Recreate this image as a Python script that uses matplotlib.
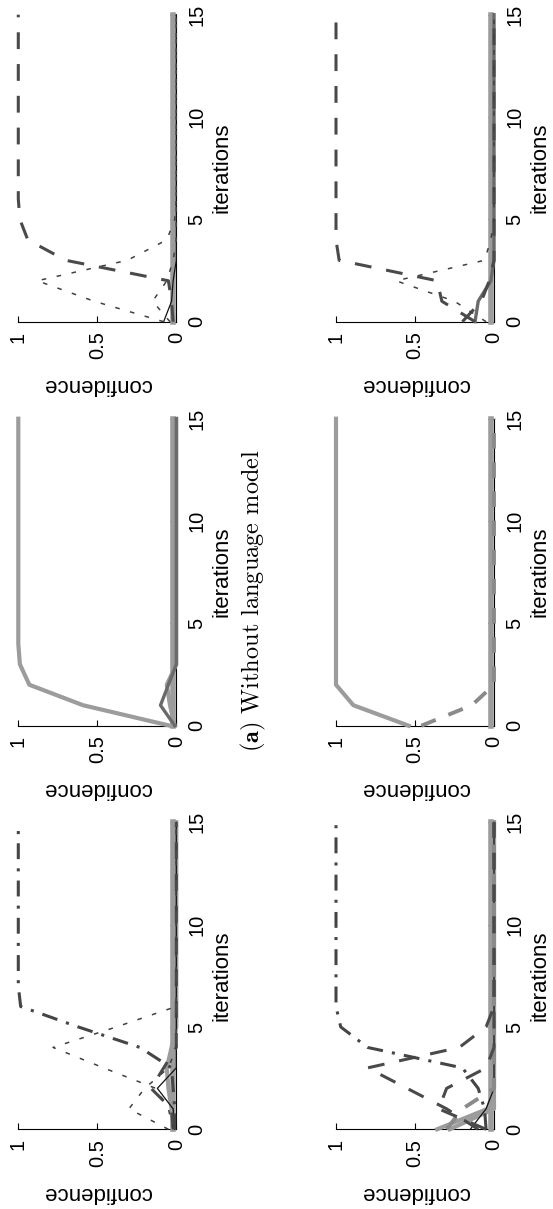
import matplotlib
matplotlib.use("Agg")
import matplotlib.pyplot as plt
import numpy as np

plt.rcParams['font.family'] = ['Liberation Sans', 'DejaVu Sans']
plt.rcParams['mathtext.fontset'] = 'cm'

# iterations 0..15
iters = np.arange(16)

def pad(vals):
    # confidence stays at the last value
    return list(vals) + [vals[-1]] * (16 - len(vals))

# panel A (top left)
a_dash = pad([0.02, 0.03, 0.05, 0.70, 0.94, 0.99, 1.0])
a_dot1 = pad([0.08, 0.52, 0.88, 0.31, 0.06, 0.01, 0.0])
a_dot2 = pad([0.04, 0.15, 0.06, 0.02, 0.0])
a_black = pad([0.08, 0.03, 0.02, 0.0])
a_zero = pad([0.018])

# panel B (top right)
b_dash = pad([0.12, 0.33, 0.36, 0.98, 1.0])
b_dot = pad([0.05, 0.25, 0.62, 0.06, 0.02, 0.0])
b_dark = pad([0.12, 0.10, 0.02, 0.0])
b_dash2 = pad([0.20, 0.08, 0.03, 0.0])
b_zero = pad([0.018])

# panel C (middle left)
c_light = pad([0.04, 0.59, 0.93, 0.99, 1.0])
c_dark = pad([0.01, 0.10, 0.05, 0.0])
c_light2 = pad([0.01, 0.04, 0.06, 0.0])
c_zero = pad([0.018])

# panel D (middle right)
d_solid = pad([0.54, 0.89, 1.0])
d_dash = pad([0.46, 0.14, 0.0])
d_zero = pad([0.018])

# panel E (bottom left)
e_dashdot = pad([0.01, 0.01, 0.02, 0.03, 0.23, 0.62, 0.985, 1.0])
e_dot1 = pad([0.02, 0.05, 0.13, 0.46, 0.78, 0.38, 0.0])
e_dot2 = pad([0.05, 0.30, 0.20, 0.05, 0.0])
e_dash = pad([0.02, 0.03, 0.16, 0.08, 0.0])
e_black = pad([0.01, 0.02, 0.12, 0.0])
e_light = pad([0.02, 0.03, 0.05, 0.06, 0.03, 0.0])
e_zero = pad([0.018])

# panel F (bottom right)
f_dashdot = pad([0.05, 0.06, 0.10, 0.20, 0.80, 0.97, 1.0])
f_dash1 = pad([0.10, 0.30, 0.55, 0.80, 0.22, 0.05, 0.0])
f_dash2 = pad([0.05, 0.35, 0.30, 0.05, 0.0])
f_gdash = pad([0.30, 0.20, 0.0])
f_light1 = pad([0.36, 0.04, 0.0])
f_light2 = pad([0.28, 0.0])
f_black = pad([0.15, 0.05, 0.0])
f_zero = pad([0.018])

conf_ticks = [0, 0.5, 1]
conf_labels = ['0', '0.5', '1']
iter_ticks = [0, 5, 10, 15]

styles = {
    'dash':    dict(color='#4a4a4a', lw=2.2, ls=(0, (5.5, 4.9))),
    'dashdot': dict(color='#454545', lw=2.2, ls=(0, (5.2, 3.0, 1.0, 3.0))),
    'dot':     dict(color='#404040', lw=1.1, ls=(0, (3.0, 7.0))),
    'black':   dict(color='#111111', lw=0.9, ls='-'),
    'dark':    dict(color='#6a6a6a', lw=2.4, ls='-'),
    'light':   dict(color='#9c9c9c', lw=3.0, ls='-'),
    'gdash':   dict(color='#8a8a8a', lw=2.8, ls=(0, (4.0, 3.5))),
    'zero':    dict(color='#9c9c9c', lw=4.0, ls='-'),
}

panels = [
    [(a_zero, 'zero'), (a_black, 'black'), (a_dot2, 'dot'), (a_dot1, 'dot'), (a_dash, 'dash')],
    [(b_zero, 'zero'), (b_dark, 'dark'), (b_dash2, 'dash'), (b_dot, 'dot'), (b_dash, 'dash')],
    [(c_zero, 'zero'), (c_light2, 'light'), (c_dark, 'dark'), (c_light, 'light')],
    [(d_zero, 'zero'), (d_dash, 'gdash'), (d_solid, 'light')],
    [(e_zero, 'zero'), (e_light, 'light'), (e_black, 'black'), (e_dash, 'dash'),
     (e_dot2, 'dot'), (e_dot1, 'dot'), (e_dashdot, 'dashdot')],
    [(f_zero, 'zero'), (f_light2, 'light'), (f_light1, 'light'), (f_black, 'black'),
     (f_gdash, 'gdash'), (f_dash2, 'dash'), (f_dash1, 'dash'), (f_dashdot, 'dashdot')],
]

W, H = 553, 1209
fig = plt.figure(figsize=(W / 100, H / 100), dpi=100)

col_left = [18.3, 336.0]
row_axis = [321.7, 725.7, 1129.3]
pw, ph = 158.0, 307.0

for k, series in enumerate(panels):
    r, c = divmod(k, 2)
    ax = fig.add_axes([col_left[c] / W, 1 - row_axis[r] / H, pw / W, ph / H])
    for vals, st in series:
        s = styles[st]
        ax.plot(vals, iters, color=s['color'], lw=s['lw'], linestyle=s['ls'],
                clip_on=False, solid_joinstyle='round')
    ax.set_xlim(1, 0)
    ax.set_ylim(0, 15)
    ax.set_xticks(conf_ticks)
    ax.set_xticklabels(conf_labels)
    ax.set_yticks(iter_ticks)
    ax.yaxis.tick_right()
    ax.tick_params(axis='x', direction='in', length=4, width=0.8, pad=7,
                   labelsize=14.5, labelrotation=90)
    ax.tick_params(axis='y', direction='in', length=4, width=0.8, pad=8,
                   labelsize=14.5, labelrotation=90)
    for t in ax.get_yticklabels():
        t.set_va('center')
    for side in ['top', 'left']:
        ax.spines[side].set_visible(False)
    for side in ['bottom', 'right']:
        ax.spines[side].set_linewidth(0.8)
        ax.spines[side].set_zorder(1)
    ax.patch.set_alpha(0)
    ax.set_xlabel('confidence', rotation=180, fontsize=16)
    ax.xaxis.set_label_coords(0.5, -0.206)
    ax.xaxis.label.set_va('center')
    ax.yaxis.set_label_position('right')
    ax.set_ylabel('iterations', rotation=90, fontsize=16)
    ax.yaxis.set_label_coords(1.29, 0.5)
    ax.yaxis.label.set_va('center')
    ax.yaxis.label.set_ha('center')

fig.text(253 / W, 1 - 601 / H, r'$\mathbf{(a)}$ Without language model',
         rotation=90, ha='center', va='center', fontsize=17.5, family='cmr10')

fig.savefig('out.png', dpi=100)
